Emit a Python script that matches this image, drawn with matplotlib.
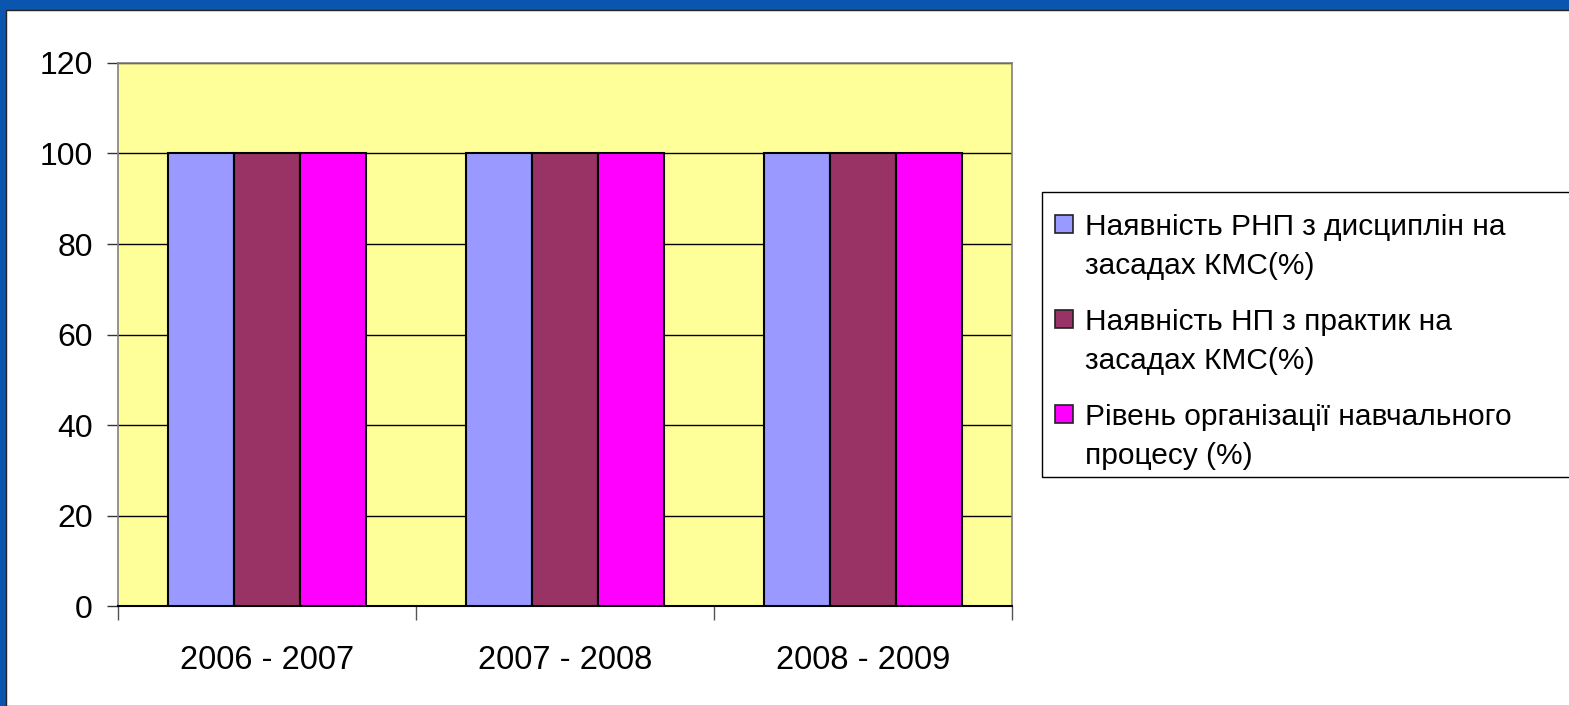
import numpy as np
import matplotlib
matplotlib.use('Agg')
import matplotlib.pyplot as plt
from matplotlib.patches import Rectangle

plt.rcParams['font.family'] = ['Liberation Sans', 'DejaVu Sans']

# data
years = ['2006 - 2007', '2007 - 2008', '2008 - 2009']
series_names = ['Наявність РНП з дисциплін на\nзасадах КМС(%)',
                'Наявність НП з практик на\nзасадах КМС(%)',
                'Рівень організації навчального\nпроцесу (%)']
rnp = [100, 100, 100]
np_pr = [100, 100, 100]
org = [100, 100, 100]
colors = ['#9999FF', '#993366', '#FF00FF']

W, H = 1569, 706
fig = plt.figure(figsize=(W / 100, H / 100), dpi=100)
fig.patch.set_facecolor('#0A56AE')

# white chart area on the blue slide
fig.patches.append(Rectangle((6 / W, 0), 1, 1 - 10 / H, transform=fig.transFigure,
                             facecolor='white', edgecolor='#222222', lw=1, zorder=-10))

ax = fig.add_axes([118 / W, 1 - 606 / H, (1012 - 118) / W, (606 - 63) / H])
ax.set_facecolor('#FFFF99')

x = np.arange(len(years))
w = 0.222
for i, (vals, c) in enumerate(zip([rnp, np_pr, org], colors)):
    ax.bar(x + (i - 1) * w, vals, w, color=c, edgecolor='black', linewidth=1.5,
           label=series_names[i], zorder=3)

ax.set_xlim(-0.5, 2.5)
ax.set_ylim(0, 120)
ax.set_yticks(range(0, 121, 20))
ax.yaxis.grid(True, color='black', linewidth=1)
ax.set_axisbelow(True)

ax.set_xticks(x)
ax.set_xticklabels(years, fontsize=23.5)
ax.tick_params(axis='x', length=0, pad=28)
ax.set_xticks([-0.5, 0.5, 1.5, 2.5], minor=True)
ax.tick_params(axis='x', which='minor', length=10, width=1, color='#555555', direction='out')
ax.tick_params(axis='y', labelsize=23, length=8, width=1, color='#333333', pad=10)

for s in ['left', 'top', 'right']:
    ax.spines[s].set_color('#808080')
    ax.spines[s].set_linewidth(1.2)
ax.spines['bottom'].set_color('black')
ax.spines['bottom'].set_linewidth(1.5)

# legend box (runs off the right edge, like in the slide)
def px(xp, yp):
    return xp / W, 1 - yp / H

fig.patches.append(Rectangle(px(1042, 477), 600 / W, (477 - 192) / H,
                             transform=fig.transFigure, facecolor='white',
                             edgecolor='black', lw=1, zorder=5))
baselines = [235, 330, 425]
for name, c, b in zip(series_names, colors, baselines):
    fig.patches.append(Rectangle(px(1055, b - 2), 18 / W, 18 / H,
                                 transform=fig.transFigure, facecolor=c,
                                 edgecolor='#222222', lw=1.2, zorder=6))
    for k, line in enumerate(name.split('\n')):
        fig.text(*px(1085, b + k * 39), line, fontsize=21.5, va='baseline',
                 ha='left', zorder=7)

fig.savefig('out.png', dpi=100, facecolor=fig.get_facecolor())
